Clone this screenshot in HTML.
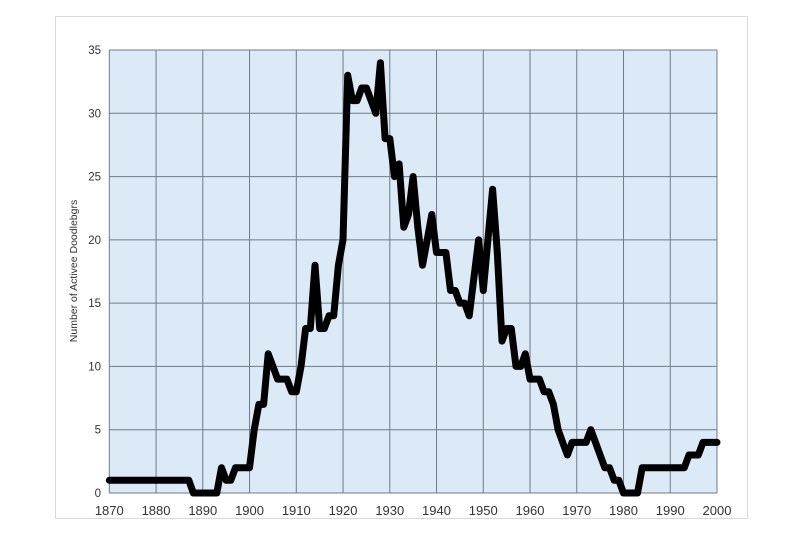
<!DOCTYPE html>
<html><head><meta charset="utf-8"><style>
body{margin:0;background:#fff;width:800px;height:534px;overflow:hidden}
text{font-family:"Liberation Sans",sans-serif;fill:#333}
</style></head><body>
<svg id="s" width="800" height="534" xmlns="http://www.w3.org/2000/svg">
<rect x="55.5" y="16.5" width="692" height="502" fill="#fff" stroke="#d9d9d9"/>
<rect x="109.3" y="50" width="607.7" height="443" fill="#dce9f6"/>
<g id="grid" stroke="#6f7b89" stroke-width="1"></g>
<g id="lab"></g>
<text transform="translate(77,271) rotate(-90)" text-anchor="middle" font-size="10.5">Number of Activee Doodlebgrs</text>
<polyline id="ln" fill="none" stroke="#000" stroke-width="7" stroke-linejoin="round" stroke-linecap="round"/>
</svg>
<script>
const X=y=>109.3+4.6746*(y-1870),Y=v=>493-12.657*v;
let g=document.getElementById('grid'),l=document.getElementById('lab'),h='',t='';
for(let i=0;i<=13;i++){let x=X(1870+10*i);h+=`<line x1="${x}" y1="50" x2="${x}" y2="493"/>`;t+=`<text x="${x}" y="515" text-anchor="middle" font-size="13">${1870+10*i}</text>`;}
for(let v=0;v<=35;v+=5){let y=Y(v);h+=`<line x1="109.3" y1="${y}" x2="717" y2="${y}"/>`;t+=`<text x="101" y="${y+4}" text-anchor="end" font-size="11.5">${v}</text>`;}
g.innerHTML=h;l.innerHTML=t;
const d={};for(let y=1870;y<=1887;y++)d[y]=1;for(let y=1888;y<=1893;y++)d[y]=0;
const a=[2,1,1,2,2,2,2,5,7,7,11,10,9,9,9,8,8,10,13,13,18,13,13,14,14,18,20,33,31,31,32,32,31,30,34,28,28,25,26,21,22,25,21,18,20,22,19,19,19,16,16,15,15,14,17,20,16,20,24,19,12,13,13,10,10,11,9,9,9,8,8,7,5,4,3,4,4,4,4,5,4,3,2,2,1,1,0,0,0,0,2,2,2,2,2,2,2,2,2,2,3,3,3,4,4,4,4];
a.forEach((v,i)=>d[1894+i]=v);
let p=[];for(let y=1870;y<=2000;y++)p.push(X(y).toFixed(1)+','+Y(d[y]).toFixed(1));
document.getElementById('ln').setAttribute('points',p.join(' '));
</script>
</body></html>
